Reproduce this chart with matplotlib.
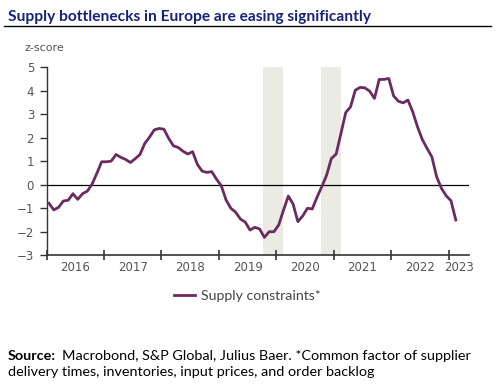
import matplotlib.pyplot as plt
import numpy as np

# monthly z-score, Jan 2016 .. Feb 2023
supply = [
    -0.80, -1.08, -0.97, -0.70, -0.67, -0.39, -0.63, -0.39, -0.28, 0.02, 0.48, 0.97,   # 2016
    0.97, 1.00, 1.28, 1.16, 1.07, 0.94, 1.10, 1.28, 1.75, 2.02, 2.33, 2.39,           # 2017
    2.36, 1.97, 1.65, 1.58, 1.42, 1.30, 1.40, 0.86, 0.57, 0.52, 0.55, 0.23,           # 2018
    -0.05, -0.66, -1.01, -1.18, -1.47, -1.60, -1.94, -1.82, -1.89, -2.25, -2.01, -2.01,  # 2019
    -1.72, -1.09, -0.49, -0.83, -1.58, -1.34, -1.01, -1.04, -0.54, -0.09, 0.40, 1.11,  # 2020
    1.30, 2.18, 3.07, 3.31, 4.02, 4.14, 4.12, 3.98, 3.67, 4.48, 4.48, 4.52,           # 2021
    3.78, 3.55, 3.48, 3.60, 3.10, 2.46, 1.92, 1.54, 1.18, 0.33, -0.16, -0.48,         # 2022
    -0.69, -1.51,                                                                     # 2023
]
start_year = 2016
shaded = [(2019.76, 2020.11), (2020.77, 2021.12)]
years = [2016, 2017, 2018, 2019, 2020, 2021, 2022, 2023]
yticks = [-3, -2, -1, 0, 1, 2, 3, 4, 5]

x = start_year + (np.arange(len(supply)) + 0.5) / 12
xmax = 2023.35

fig = plt.figure(figsize=(4.96, 3.84), dpi=100)
ax = fig.add_axes([0.094, 0.336, 0.851, 0.489])

for a, b in shaded:
    ax.axvspan(a, b, color='#ebebe3', lw=0, zorder=0)

ax.axhline(0, color='black', lw=0.9, zorder=1)
line, = ax.plot(x, supply, color='#6b2a60', lw=2.0, zorder=3,
                solid_joinstyle='round', label='Supply constraints*')

ax.set_xlim(start_year, xmax)
ax.set_ylim(-3, 5)

# year boundaries as tick marks, labels centred in each year
ax.set_xticks(years)
ax.set_xticklabels([])
lab_pos = [y + 0.5 for y in years[:-1]] + [(years[-1] + xmax) / 2]
ax.set_xticks(lab_pos, minor=True)
ax.set_xticklabels([str(y) for y in years], minor=True)
ax.tick_params(axis='x', which='major', direction='inout', length=7, width=1.2, color='#333333')
ax.tick_params(axis='x', which='minor', length=0, pad=4, labelsize=8.5, labelcolor='#555555')

ax.set_yticks(yticks)
ax.tick_params(axis='y', direction='out', length=5, width=1.0, color='#333333',
               labelsize=8.5, labelcolor='#555555', pad=4)

for s in ['top', 'right']:
    ax.spines[s].set_visible(False)
ax.spines['left'].set_color('#333333')
ax.spines['bottom'].set_color('#333333')
ax.spines['left'].set_linewidth(1.0)
ax.spines['bottom'].set_linewidth(1.2)

fig.text(0.05, 0.875, 'z-score', fontsize=8, color='#555555', va='center')

fig.text(0.016, 0.955, 'Supply bottlenecks in Europe are easing significantly',
         fontsize=11.2, fontweight='bold', color='#15237a', family='Lato', va='center')
fig.add_artist(plt.Line2D([0.008, 0.99], [0.932, 0.932], color='black', lw=1.0))

leg = fig.legend(handles=[line], loc='center', bbox_to_anchor=(0.499, 0.228),
                 frameon=False, handlelength=1.5, handletextpad=0.4,
                 prop={'family': 'Lato', 'size': 10.2})
leg.get_texts()[0].set_color('#444444')

fig.text(0.016, 0.073, 'Source:', fontsize=10.4, family='Lato', fontweight='bold', va='center')
fig.text(0.125, 0.073, 'Macrobond, S&P Global, Julius Baer. *Common factor of supplier',
         fontsize=10.4, family='Lato', va='center')
fig.text(0.016, 0.030, 'delivery times, inventories, input prices, and order backlog',
         fontsize=10.4, family='Lato', va='center')

fig.savefig('out.png', dpi=100)
